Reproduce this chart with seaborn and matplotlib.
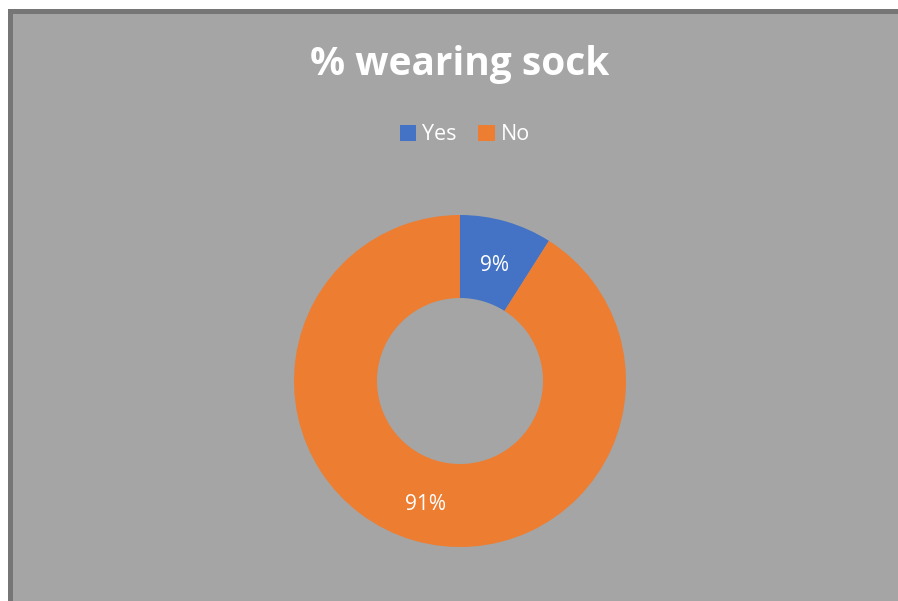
import matplotlib
matplotlib.use("Agg")
import matplotlib.pyplot as plt
from matplotlib.patches import Rectangle
import seaborn as sns

categories = ["Yes", "No"]
values = [9, 91]
title = "% wearing sock"

sns.set_theme(style="white")
plt.rcParams["font.family"] = ["Open Sans", "DejaVu Sans"]

colors = ["#4472C4", "#ED7D31"]
W, H = 898, 601
fig = plt.figure(figsize=(W / 100, H / 100), dpi=100)
fig.patch.set_facecolor("white")

# chart frame: dark outline then grey plot area
fig.add_artist(Rectangle((8 / W, 0), 1, 1 - 9 / H, transform=fig.transFigure,
                         facecolor="#767676", edgecolor="none", zorder=0))
fig.add_artist(Rectangle((13 / W, 0), 1, 1 - 14 / H, transform=fig.transFigure,
                         facecolor="#A5A5A5", edgecolor="none", zorder=0))

cx, cy, r = 460, 381, 166
ax = fig.add_axes([(cx - r) / W, (H - cy - r) / H, 2 * r / W, 2 * r / H])
ax.set_facecolor("none")
wedges, _, autotexts = ax.pie(
    values, colors=colors, startangle=90, counterclock=False, radius=1,
    autopct=lambda p: f"{p:.0f}%", pctdistance=0.75,
    wedgeprops=dict(width=0.5, edgecolor="none"),
    textprops=dict(color="white", fontsize=15),
)
# Open Sans sits high in its box; nudge the labels down slightly
for t in autotexts:
    x, y = t.get_position()
    t.set_position((x, y - 0.025))
ax.set_xlim(-1, 1)
ax.set_ylim(-1, 1)
ax.set_aspect("equal")
ax.axis("off")

fig.text(460 / W, 1 - 65 / H, title, ha="center", va="center",
         fontsize=28, fontweight="bold", color="white")

leg = fig.legend(wedges, categories, loc="center", bbox_to_anchor=(465 / W, 1 - 135 / H),
                 ncol=2, frameon=False, fontsize=15.5, handlelength=0.75, handleheight=0.75,
                 handletextpad=0.3, columnspacing=1.0)
for t in leg.get_texts():
    t.set_color("white")

fig.savefig("out.png", dpi=100)
